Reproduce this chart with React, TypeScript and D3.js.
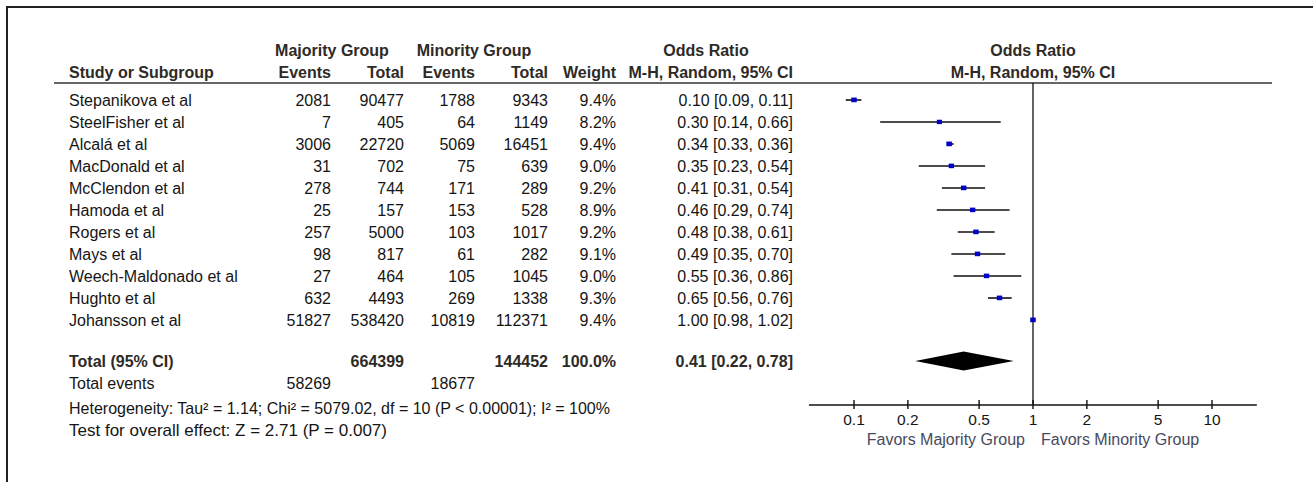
import React, { useRef, useEffect } from 'react';
import * as d3 from 'd3';

const studies = [
  'Stepanikova et al', 'SteelFisher et al', 'Alcalá et al', 'MacDonald et al', 'McClendon et al',
  'Hamoda et al', 'Rogers et al', 'Mays et al', 'Weech-Maldonado et al', 'Hughto et al', 'Johansson et al',
];
const majEvents = [2081, 7, 3006, 31, 278, 25, 257, 98, 27, 632, 51827];
const majTotal = [90477, 405, 22720, 702, 744, 157, 5000, 817, 464, 4493, 538420];
const minEvents = [1788, 64, 5069, 75, 171, 153, 103, 61, 105, 269, 10819];
const minTotal = [9343, 1149, 16451, 639, 289, 528, 1017, 282, 1045, 1338, 112371];
const weights = [9.4, 8.2, 9.4, 9.0, 9.2, 8.9, 9.2, 9.1, 9.0, 9.3, 9.4];
const oddsRatio = [0.10, 0.30, 0.34, 0.35, 0.41, 0.46, 0.48, 0.49, 0.55, 0.65, 1.00];
const ciLow = [0.09, 0.14, 0.33, 0.23, 0.31, 0.29, 0.38, 0.35, 0.36, 0.56, 0.98];
const ciHigh = [0.11, 0.66, 0.36, 0.54, 0.54, 0.74, 0.61, 0.70, 0.86, 0.76, 1.02];

const totals = { majTotal: 664399, minTotal: 144452, weight: '100.0%', or: 0.41, lo: 0.22, hi: 0.78 };
const totalEvents = [58269, 18677];
const axisTicks = [0.1, 0.2, 0.5, 1, 2, 5, 10];
const footerLines = [
  'Heterogeneity: Tau² = 1.14; Chi² = 5079.02, df = 10 (P < 0.00001); I² = 100%',
  'Test for overall effect: Z = 2.71 (P = 0.007)',
];

const W = 1313;
const H = 482;
const FONT = 'Liberation Sans, Arial, sans-serif';
const HEAD = '#2e2a26';
const INK = '#151515';

const App: React.FC = () => {
  const svgRef = useRef<SVGSVGElement | null>(null);

  useEffect(() => {
    if (!svgRef.current) return;
    const svg = d3.select(svgRef.current);
    svg.selectAll('*').remove();
    svg.attr('width', W).attr('height', H).style('font-family', FONT);

    // outer frame (top + left)
    svg.append('path')
      .attr('d', `M7,${H} L7,7 L${W},7`)
      .attr('fill', 'none')
      .attr('stroke', '#222')
      .attr('stroke-width', 2);

    // column right edges
    const col = { name: 69, majE: 331, majT: 404, minE: 475, minT: 548, wt: 616, or: 793 };

    const yRow = d3.scalePoint<string>()
      .domain(studies)
      .range([100, 320]);

    const x = d3.scaleLog()
      .domain([0.1, 10])
      .range([854, 1212]);

    const axisY = 405;
    const headLineY = 83;
    const totalY = 361;

    const txt = (s: string, px: number, py: number, anchor: string, opts: any = {}) =>
      svg.append('text')
        .attr('x', px)
        .attr('y', py)
        .attr('text-anchor', anchor)
        .attr('font-size', opts.size || 16)
        .attr('font-weight', opts.bold ? 'bold' : 'normal')
        .attr('fill', opts.color || INK)
        .text(s);

    // Headers
    const hb = { bold: true, color: HEAD };
    const h1 = 56;
    const h2 = 78;
    txt('Majority Group', 332, h1, 'middle', hb);
    txt('Minority Group', 474, h1, 'middle', hb);
    txt('Odds Ratio', 706, h1, 'middle', hb);
    txt('Odds Ratio', x(1), h1, 'middle', hb);
    txt('Study or Subgroup', col.name, h2, 'start', hb);
    txt('Events', col.majE, h2, 'end', hb);
    txt('Total', col.majT, h2, 'end', hb);
    txt('Events', col.minE, h2, 'end', hb);
    txt('Total', col.minT, h2, 'end', hb);
    txt('Weight', col.wt, h2, 'end', hb);
    txt('M-H, Random, 95% CI', col.or, h2, 'end', hb);
    txt('M-H, Random, 95% CI', x(1), h2, 'middle', hb);

    svg.append('line')
      .attr('x1', 54).attr('x2', 1272)
      .attr('y1', headLineY).attr('y2', headLineY)
      .attr('stroke', '#333').attr('stroke-width', 1.6);

    // Study rows
    studies.forEach((s, i) => {
      const by = (yRow(s) || 0) + 6;
      txt(s, col.name, by, 'start');
      txt(String(majEvents[i]), col.majE, by, 'end');
      txt(String(majTotal[i]), col.majT, by, 'end');
      txt(String(minEvents[i]), col.minE, by, 'end');
      txt(String(minTotal[i]), col.minT, by, 'end');
      txt(`${weights[i].toFixed(1)}%`, col.wt, by, 'end');
      txt(`${oddsRatio[i].toFixed(2)} [${ciLow[i].toFixed(2)}, ${ciHigh[i].toFixed(2)}]`, col.or, by, 'end');
    });

    // Total row
    const tb = totalY + 6;
    txt('Total (95% CI)', col.name, tb, 'start', hb);
    txt(String(totals.majTotal), col.majT, tb, 'end', hb);
    txt(String(totals.minTotal), col.minT, tb, 'end', hb);
    txt(totals.weight, col.wt, tb, 'end', hb);
    txt(`${totals.or.toFixed(2)} [${totals.lo.toFixed(2)}, ${totals.hi.toFixed(2)}]`, col.or, tb, 'end', hb);

    txt('Total events', col.name, 389, 'start');
    txt(String(totalEvents[0]), col.majE, 389, 'end');
    txt(String(totalEvents[1]), col.minE, 389, 'end');

    const footLen = [541, 318];
    footerLines.forEach((l, i) => {
      txt(l, col.name, 414 + i * 22, 'start', { size: 16.5 })
        .attr('textLength', footLen[i])
        .attr('lengthAdjust', 'spacingAndGlyphs');
    });

    // Forest plot: vertical line of no effect
    svg.append('line')
      .attr('x1', x(1)).attr('x2', x(1))
      .attr('y1', headLineY).attr('y2', axisY)
      .attr('stroke', '#111').attr('stroke-width', 1.3);

    // CI lines
    svg.append('g')
      .selectAll('line')
      .data(studies)
      .enter()
      .append('line')
      .attr('x1', (_, i) => x(ciLow[i]))
      .attr('x2', (_, i) => x(ciHigh[i]))
      .attr('y1', d => yRow(d) || 0)
      .attr('y2', d => yRow(d) || 0)
      .attr('stroke', '#111')
      .attr('stroke-width', 1.6);

    // Point estimates (square size ~ weight)
    const sz = d3.scaleSqrt().domain([0, 9.4]).range([0, 5.5]);
    svg.append('g')
      .selectAll('rect')
      .data(studies)
      .enter()
      .append('rect')
      .attr('x', (_, i) => x(oddsRatio[i]) - sz(weights[i]) / 2)
      .attr('y', (d, i) => (yRow(d) || 0) - sz(weights[i]) / 2 + 0.3)
      .attr('width', (_, i) => sz(weights[i]))
      .attr('height', (_, i) => sz(weights[i]) * 0.85)
      .attr('fill', '#0000c8');

    // Pooled diamond
    const dh = 9.5;
    svg.append('path')
      .attr('d', `M${x(totals.lo)},${totalY} L${x(totals.or)},${totalY - dh} L${x(totals.hi)},${totalY} L${x(totals.or)},${totalY + dh} Z`)
      .attr('fill', '#000');

    // Axis
    const [d0, d1] = [0.056, 17.8];
    svg.append('line')
      .attr('x1', x(d0)).attr('x2', x(d1))
      .attr('y1', axisY).attr('y2', axisY)
      .attr('stroke', '#111').attr('stroke-width', 1.4);

    const tg = svg.append('g')
      .selectAll('g')
      .data(axisTicks)
      .enter()
      .append('g')
      .attr('transform', d => `translate(${x(d)},0)`);
    tg.append('line')
      .attr('y1', axisY - 5).attr('y2', axisY + 4)
      .attr('stroke', '#111').attr('stroke-width', 1.4);
    tg.append('text')
      .attr('y', axisY + 20)
      .attr('text-anchor', 'middle')
      .attr('font-size', 15.5)
      .attr('fill', INK)
      .text(d => String(d));

    txt('Favors Majority Group', x(1) - 8, 445, 'end', { color: '#474a5e' });
    txt('Favors Minority Group', x(1) + 8, 445, 'start', { color: '#474a5e' });
  }, []);

  return (
    <svg
      ref={svgRef}
      style={{ position: 'absolute', left: 0, top: 0, display: 'block', background: '#fff' }}
    />
  );
};

export default App;
